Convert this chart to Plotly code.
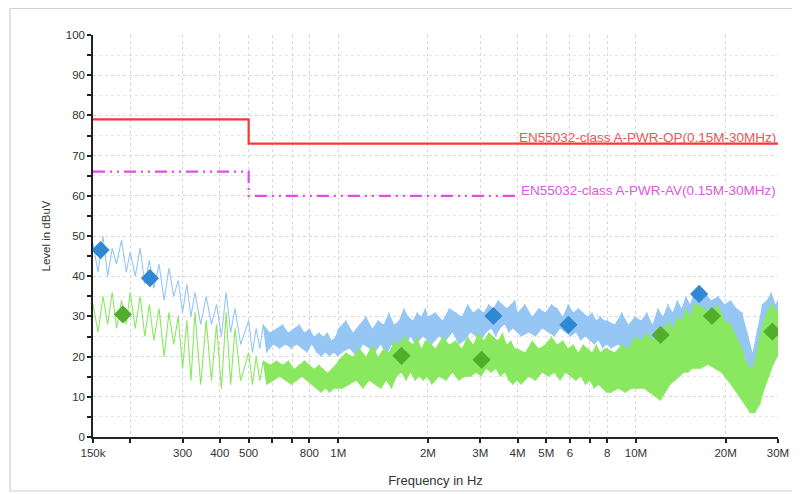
import math
import plotly.graph_objects as go

# ---------------- data ----------------
freq_khz = [
    # 150 k - 470 k
    150, 156, 162, 168, 174, 180, 187, 194, 200, 208, 216, 224, 232, 240, 250, 260,
    270, 280, 290, 300, 310, 320, 330, 345, 360, 375, 390, 405, 420, 435, 450, 470,
    # 500 k - 1 M
    500, 515, 530, 545, 560, 575, 590, 605, 620, 635, 650, 665, 680, 695, 710, 725, 740,
    755, 770, 785, 800, 815, 830, 845, 860, 875, 890, 905, 920, 935, 950, 965, 980, 995,
    # 1 M - 2 M
    1000, 1030, 1060, 1090, 1120, 1150, 1180, 1210, 1240, 1270, 1300, 1330, 1360, 1390, 1420, 1450, 1480,
    1510, 1540, 1570, 1600, 1630, 1660, 1690, 1720, 1750, 1780, 1810, 1840, 1870, 1900, 1930, 1960, 1990,
    # 2 M - 4 M
    2000, 2060, 2120, 2180, 2240, 2300, 2360, 2420, 2480, 2540, 2600, 2660, 2720, 2780, 2840, 2900, 2960,
    3020, 3080, 3140, 3200, 3260, 3320, 3380, 3440, 3500, 3560, 3620, 3680, 3740, 3800, 3860, 3920, 3980,
    # 4 M - 8 M
    4000, 4120, 4240, 4360, 4480, 4600, 4720, 4840, 4960, 5080, 5200, 5320, 5440, 5560, 5680, 5800, 5920,
    6040, 6160, 6280, 6400, 6520, 6640, 6760, 6880, 7000, 7120, 7240, 7360, 7480, 7600, 7720, 7840, 7960,
    # 8 M - 16 M
    8000, 8240, 8480, 8720, 8960, 9200, 9440, 9680, 9920, 10160, 10400, 10640, 10880, 11120, 11360, 11600, 11840,
    12080, 12320, 12560, 12800, 13040, 13280, 13520, 13760, 14000, 14240, 14480, 14720, 14960, 15200, 15440, 15680, 15920,
    # 16 M - 30 M
    16000, 16480, 16960, 17440, 17920, 18400, 18880, 19360, 19840, 20320, 20800, 21280, 21760, 22240, 22720, 23200,
    23680, 24160, 24640, 25120, 25600, 26080, 26560, 27040, 27520, 28000, 28480, 28960, 29440, 29920, 30000,
]

peak_dbuv = [
    48, 41, 50, 40, 47, 43, 49, 41, 46, 40, 47, 38, 44, 37, 43, 34,
    42, 35, 39, 31, 38, 30, 36, 28, 35, 28, 33, 25, 36, 26, 32, 23,
    29, 21, 27, 22, 28, 21, 26, 23, 27, 22, 28, 23, 26, 22, 27, 23, 28,
    22, 26, 21, 27, 23, 25, 21, 26, 20, 25, 21, 26, 20, 24, 21, 25, 20,
    27, 21, 29, 22, 26, 20, 28, 23, 30, 22, 27, 21, 29, 23, 28, 20, 31,
    23, 28, 21, 29, 24, 32, 23, 30, 25, 29, 23, 31, 24, 30, 25, 32, 24,
    30, 23, 31, 25, 29, 24, 32, 26, 31, 23, 30, 24, 33, 26, 31, 25, 32,
    24, 31, 26, 33, 27, 32, 25, 34, 27, 33, 28, 32, 26, 33, 27, 34, 26,
    31, 25, 33, 26, 30, 25, 32, 27, 31, 26, 33, 25, 32, 27, 30, 26, 33,
    25, 31, 26, 32, 24, 31, 25, 30, 24, 31, 23, 29, 24, 30, 22, 29, 23,
    29, 22, 28, 23, 31, 21, 28, 23, 30, 22, 29, 24, 31, 22, 28, 23, 32,
    24, 30, 22, 33, 25, 31, 24, 34, 26, 32, 25, 35, 26, 33, 27, 36, 27,
    35, 27, 36, 28, 34, 26, 35, 27, 33, 26, 34, 25, 32, 23, 31, 20,
    26, 14, 21, 11, 27, 18, 33, 24, 34, 25, 36, 26, 33, 25, 34,
]

avg_dbuv = [
    33, 26, 35, 28, 36, 27, 34, 28, 36, 27, 35, 25, 33, 24, 32, 20,
    31, 23, 30, 17, 29, 14, 31, 13, 29, 14, 28, 12, 31, 13, 27, 14,
    21, 13, 20, 14, 19, 13, 18, 14, 19, 15, 18, 14, 19, 13, 17, 14, 18,
    15, 19, 14, 18, 13, 17, 12, 18, 11, 17, 12, 16, 11, 17, 12, 18, 12,
    19, 12, 21, 13, 20, 14, 22, 12, 20, 14, 23, 13, 20, 12, 22, 14, 21,
    12, 24, 15, 23, 16, 25, 14, 24, 16, 23, 14, 25, 15, 22, 14, 24, 15,
    24, 13, 22, 15, 25, 14, 23, 16, 24, 14, 22, 15, 25, 15, 23, 16, 26,
    15, 24, 17, 26, 16, 25, 17, 24, 15, 26, 16, 23, 14, 24, 13, 22, 14,
    22, 13, 21, 15, 24, 14, 22, 16, 23, 15, 25, 16, 23, 14, 24, 16, 22,
    15, 23, 14, 21, 15, 23, 13, 22, 14, 21, 12, 23, 13, 21, 12, 22, 11,
    22, 11, 21, 12, 23, 11, 22, 12, 25, 12, 24, 12, 26, 11, 24, 10, 27,
    9, 26, 11, 29, 13, 27, 14, 30, 15, 29, 16, 32, 16, 30, 17, 33, 17,
    33, 17, 32, 18, 31, 17, 33, 16, 29, 14, 28, 12, 25, 10, 22, 8,
    18, 6, 17, 6, 22, 8, 28, 12, 31, 15, 33, 18, 32, 20, 31,
]

qp_marker_khz = [159, 233, 3320, 5930, 16300]
qp_marker_dbuv = [46.5, 39.5, 30.1, 27.9, 35.6]

av_marker_khz = [189, 1630, 3030, 12100, 18000, 28700]
av_marker_dbuv = [30.5, 20.2, 19.2, 25.4, 30.1, 26.2]

limit_qp_khz = [150, 500, 30000]
limit_qp_dbuv = [79, 73, 73]
limit_av_khz = [150, 500, 30000]
limit_av_dbuv = [66, 60, 60]

tick_khz = [150, 200, 300, 400, 500, 600, 700, 800, 1000, 2000, 3000, 4000, 5000, 6000, 7000, 8000, 10000, 20000, 30000]
tick_text = ["150k", "", "300", "400", "500", "", "", "800", "1M", "2M", "3M", "4M", "5M", "6", "", "8", "10M", "20M", "30M"]

# ---------------- styles ----------------
BLUE_LINE = "#96c6f3"
BLUE_MARK = "#2f88d4"
GREEN_LINE = "#8ae860"
GREEN_MARK = "#52ad2c"
RED = "#ff3434"
MAGENTA = "#e64ae6"
FONT = "Liberation Sans, Arial, sans-serif"

# plot area (figure/layout pixels)
L, R, T, B = 85, 30, 27, 65
PW, PH = 800 - L - R, 494 - T - B


def hz(lst):
    return [v * 1000 for v in lst]


def band(freqs, vals, fmin):
    n = min(len(freqs), len(vals))
    up = [(freqs[i], vals[i]) for i in range(n) if i % 2 == 0 and freqs[i] >= fmin]
    lo = [(freqs[i], vals[i]) for i in range(n) if i % 2 == 1 and freqs[i] >= fmin]
    pts = up + lo[::-1]
    return hz([p[0] for p in pts]), [p[1] for p in pts]


fig = go.Figure()

for vals, col in [(peak_dbuv, BLUE_LINE), (avg_dbuv, GREEN_LINE)]:
    n = min(len(freq_khz), len(vals))
    bx, by = band(freq_khz, vals, 560)
    fig.add_trace(go.Scatter(x=bx, y=by, mode="lines", fill="toself", fillcolor=col,
                             line=dict(width=0, color=col),
                             hoverinfo="skip", showlegend=False))
    fig.add_trace(go.Scatter(x=hz(freq_khz[:n]), y=vals[:n], mode="lines",
                             line=dict(width=1.1, color=col), showlegend=False))

fig.add_trace(go.Scatter(x=hz(limit_qp_khz), y=limit_qp_dbuv, mode="lines", line_shape="hv",
                         line=dict(color=RED, width=2.2), showlegend=False))
fig.add_trace(go.Scatter(x=hz(limit_av_khz), y=limit_av_dbuv, mode="lines", line_shape="hv",
                         line=dict(color=MAGENTA, width=2.2, dash="12px,5px,2px,5px,2px,5px"),
                         showlegend=False))

fig.add_trace(go.Scatter(x=hz(qp_marker_khz), y=qp_marker_dbuv, mode="markers",
                         marker=dict(symbol="diamond", size=14, color=BLUE_MARK), showlegend=False))
fig.add_trace(go.Scatter(x=hz(av_marker_khz), y=av_marker_dbuv, mode="markers",
                         marker=dict(symbol="diamond", size=14, color=GREEN_MARK), showlegend=False))

fig.add_annotation(x=math.log10(30e6), y=73, xref="x", yref="y", xanchor="right", yanchor="bottom",
                   text="EN55032-class A-PWR-QP(0.15M-30MHz)", showarrow=False,
                   font=dict(family=FONT, size=13.5, color="#e85858"), yshift=-3)
fig.add_annotation(x=math.log10(30e6), y=60, xref="x", yref="y", xanchor="right", yanchor="bottom",
                   text="EN55032-class A-PWR-AV(0.15M-30MHz)", showarrow=False, bgcolor="white",
                   font=dict(family=FONT, size=13.5, color="#dc58e2"), yshift=-4)

# outer frame
fig.add_shape(type="rect", xref="paper", yref="paper",
              x0=(2 - L) / PW, x1=(789 - L) / PW,
              y0=(494 - B - 483) / PH, y1=(494 - B - 0.5) / PH,
              line=dict(color="#cfcfcf", width=1.2), layer="below")

fig.update_xaxes(type="log", range=[math.log10(150e3), math.log10(30e6)],
                 tickvals=hz(tick_khz), ticktext=tick_text,
                 showline=True, linecolor="#222", linewidth=1.5,
                 ticks="outside", ticklen=4, tickwidth=1.5, tickcolor="#222",
                 showgrid=True, gridcolor="#d8d8d8", griddash="dot", gridwidth=1,
                 tickfont=dict(family=FONT, size=11.5, color="#333"),
                 title=dict(text="Frequency in Hz", font=dict(family=FONT, size=13, color="#333"), standoff=18),
                 zeroline=False)
fig.update_yaxes(range=[0, 100], dtick=10, tick0=0,
                 showline=True, linecolor="#222", linewidth=1.5,
                 ticks="outside", ticklen=4, tickwidth=1.5, tickcolor="#222",
                 minor=dict(dtick=5, ticks="outside", ticklen=4, tickcolor="#222", showgrid=True,
                            gridcolor="#e6e6e6", griddash="dot"),
                 showgrid=True, gridcolor="#d8d8d8", griddash="dot", gridwidth=1,
                 tickfont=dict(family=FONT, size=11.5, color="#333"),
                 title=dict(text="Level in dBuV", font=dict(family=FONT, size=11.5, color="#333"), standoff=13),
                 zeroline=False)

fig.update_layout(width=800, height=494, margin=dict(l=L, r=R, t=T, b=B),
                  paper_bgcolor="white", plot_bgcolor="white", showlegend=False)

fig.write_html("out.html")
